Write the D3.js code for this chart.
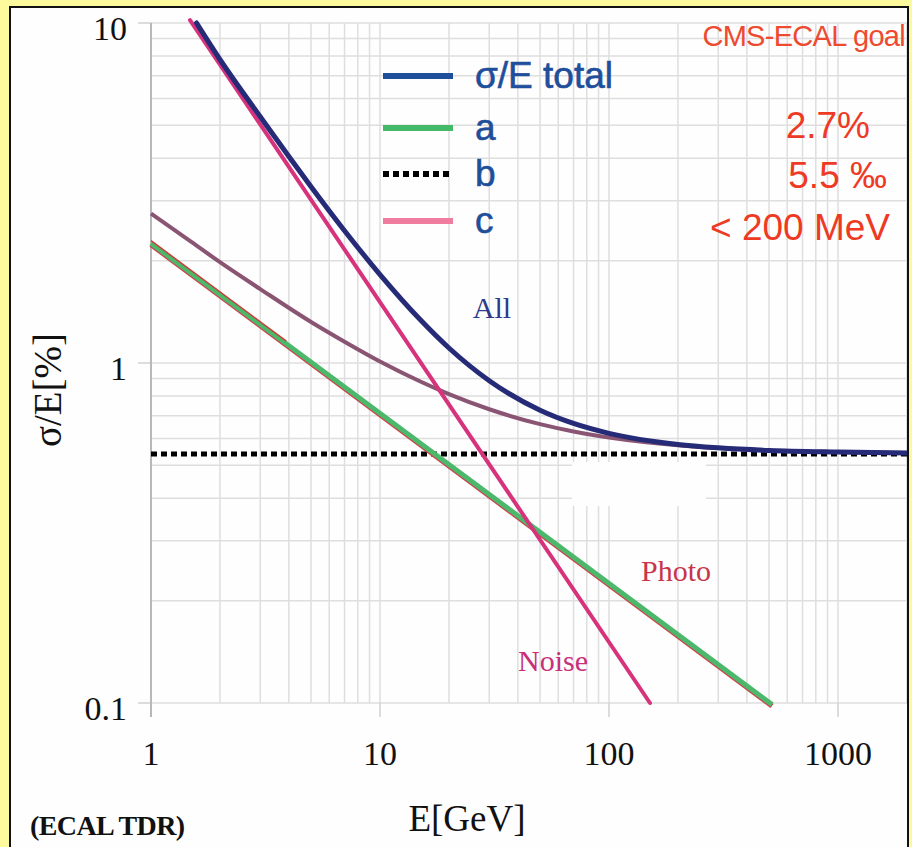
<!DOCTYPE html>
<html>
<head>
<meta charset="utf-8">
<script src="https://cdn.jsdelivr.net/npm/d3@7"></script>
<style>
  body { margin: 0; background: #fdfa9e; }
  svg { display: block; }
</style>
</head>
<body>
<div id="chart"></div>
<script>
//Values
const xTicks = [1, 10, 100, 1000];
const yTicks = [0.1, 1, 10];
const xTickLabels = ["1", "10", "100", "1000"];
const yTickLabels = ["0.1", "1", "10"];

//Total resolution (blue) and stochastic + constant (mauve)
const totalE = [1.58, 2, 3, 4, 5, 7, 10, 15, 20, 30, 50, 70, 100, 200, 300, 500, 1000, 2100];
const totalSigma = [10.0, 7.81, 5.30, 4.05, 3.30, 2.45, 1.82, 1.34, 1.107, 0.887, 0.726, 0.664, 0.621, 0.576, 0.563, 0.553, 0.547, 0.543];
const stochE = [1, 1.5, 2, 3, 5, 7, 10, 15, 20, 30, 50, 70, 100, 200, 300, 500, 1000, 2100];
const stochSigma = [2.75, 2.27, 1.98, 1.65, 1.32, 1.155, 1.01, 0.882, 0.81, 0.731, 0.661, 0.629, 0.604, 0.573, 0.562, 0.553, 0.547, 0.543];

//Straight lines on log-log: photostatistics, noise, constant term
const photoE = [1, 515];
const photoSigma = [2.25, 0.099];
const photoStartE = [1, 3.9];
const photoStartSigma = [2.29, 1.16];
const noiseE = [1.48, 151];
const noiseSigma = [10.2, 0.1];
const constE = [1, 2100];
const constSigma = [0.54, 0.54];

const legendLabels = ["σ/E total", "a", "b", "c"];
const goalTitle = "CMS-ECAL goal";
const goalLabels = ["2.7%", "5.5 ‰", "< 200 MeV"];

const width = 912, height = 847;

const svg = d3.select("#chart")
    .append("svg")
    .attr("width", width)
    .attr("height", height);

//White panel with black frame
svg.append("rect")
    .attr("x", 10).attr("y", 7)
    .attr("width", 898).attr("height", 850)
    .attr("fill", "#fefefe")
    .attr("stroke", "#111")
    .attr("stroke-width", 2);

svg.append("clipPath").attr("id", "panel")
    .append("rect").attr("x", 11).attr("y", 8).attr("width", 896).attr("height", 840);

//Log scales
const xScale = d3.scaleLog().domain([1, 1000]).range([151, 838]);
const yScale = d3.scaleLog().domain([0.1, 10]).range([703, 23]);

const plot = svg.append("g").attr("clip-path", "url(#panel)");

//Minor and major grid lines
const xGrid = [];
[1, 10, 100, 1000].forEach(d => { for (let k = 1; k <= 9; k++) if (d * k <= 2000) xGrid.push(d * k); });
xGrid.push(2000);
const yGrid = [];
[0.1, 1].forEach(d => { for (let k = 1; k <= 9; k++) yGrid.push(d * k); });
yGrid.push(10);

plot.selectAll(".vgrid").data(xGrid).join("line")
    .attr("x1", d => xScale(d)).attr("x2", d => xScale(d))
    .attr("y1", yScale(10)).attr("y2", yScale(0.1))
    .attr("stroke", "#dedede").attr("stroke-width", 1.5);

plot.selectAll(".hgrid").data(yGrid).join("line")
    .attr("x1", xScale(1)).attr("x2", 908)
    .attr("y1", d => yScale(d)).attr("y2", d => yScale(d))
    .attr("stroke", "#dedede").attr("stroke-width", 1.5);

//Tick marks poking out of the frame
plot.selectAll(".xtick").data(xTicks).join("line")
    .attr("x1", d => xScale(d)).attr("x2", d => xScale(d))
    .attr("y1", yScale(0.1)).attr("y2", yScale(0.1) + 14)
    .attr("stroke", "#d0d0d0").attr("stroke-width", 1.5);

plot.selectAll(".ytick").data(yTicks).join("line")
    .attr("x1", xScale(1) - 13).attr("x2", xScale(1))
    .attr("y1", d => yScale(d)).attr("y2", d => yScale(d))
    .attr("stroke", "#d0d0d0").attr("stroke-width", 1.5);

//Left axis line
plot.append("line")
    .attr("x1", xScale(1)).attr("x2", xScale(1))
    .attr("y1", yScale(10)).attr("y2", yScale(0.1) + 14)
    .attr("stroke", "#b8b8b8").attr("stroke-width", 2);

//Blank patch in the grid (as in the scan)
plot.append("rect")
    .attr("x", 572).attr("y", 462).attr("width", 134).attr("height", 44)
    .attr("fill", "#fefefe");

const line = d3.line()
    .x(d => xScale(d[0]))
    .y(d => yScale(d[1]))
    .curve(d3.curveMonotoneX);

const zip = (a, b) => a.map((v, i) => [v, b[i]]);

//Constant term
plot.append("path")
    .datum(zip(constE, constSigma))
    .attr("d", line)
    .attr("fill", "none")
    .attr("stroke", "#000")
    .attr("stroke-width", 5)
    .attr("stroke-dasharray", "6,4");

//Photostatistics: red line under the green one
plot.append("path")
    .datum(zip(photoE, photoSigma))
    .attr("d", line)
    .attr("transform", "translate(0,1.5)")
    .attr("fill", "none")
    .attr("stroke", "#d0404a")
    .attr("stroke-width", 5);

plot.append("path")
    .datum(zip(photoE, photoSigma))
    .attr("d", line)
    .attr("fill", "none")
    .attr("stroke", "#4cb86c")
    .attr("stroke-width", 5);

plot.append("path")
    .datum(zip(photoStartE, photoStartSigma))
    .attr("d", line)
    .attr("fill", "none")
    .attr("stroke", "#c8403a")
    .attr("stroke-width", 1.5);

//Stochastic + constant
plot.append("path")
    .datum(zip(stochE, stochSigma))
    .attr("d", line)
    .attr("fill", "none")
    .attr("stroke", "#8a5572")
    .attr("stroke-width", 4);

//Noise
plot.append("path")
    .datum(zip(noiseE, noiseSigma))
    .attr("d", line)
    .attr("fill", "none")
    .attr("stroke", "#d6337c")
    .attr("stroke-width", 4)
    .attr("stroke-linecap", "round");

//Total
plot.append("path")
    .datum(zip(totalE, totalSigma))
    .attr("d", line)
    .attr("fill", "none")
    .attr("stroke", "#262b78")
    .attr("stroke-width", 5)
    .attr("stroke-linecap", "round");

//Tick labels
const serif = "'Liberation Serif', 'DejaVu Serif', serif";
const sans = "'Liberation Sans', Arial, sans-serif";

svg.selectAll(".xlab").data(xTicks).join("text")
    .attr("x", d => xScale(d)).attr("y", 765)
    .attr("text-anchor", "middle")
    .attr("font-family", serif).attr("font-size", 34)
    .attr("fill", "#111")
    .text((d, i) => xTickLabels[i]);

svg.selectAll(".ylab").data(yTicks).join("text")
    .attr("x", 127).attr("y", d => yScale(d) + 17)
    .attr("text-anchor", "end")
    .attr("font-family", serif).attr("font-size", 34)
    .attr("fill", "#111")
    .text((d, i) => yTickLabels[i]);

//Axis titles
svg.append("text")
    .attr("x", 467).attr("y", 831)
    .attr("text-anchor", "middle")
    .attr("font-family", serif).attr("font-size", 37)
    .attr("fill", "#111")
    .text("E[GeV]");

svg.append("text")
    .attr("transform", "translate(61,390) rotate(-90)")
    .attr("text-anchor", "middle")
    .attr("font-family", serif).attr("font-size", 39)
    .attr("fill", "#111")
    .text("σ/E[%]");

svg.append("text")
    .attr("x", 30).attr("y", 835)
    .attr("font-family", serif).attr("font-size", 28)
    .attr("font-weight", "bold")
    .attr("letter-spacing", -0.6)
    .attr("fill", "#111")
    .text("(ECAL TDR)");

//Curve labels
const curveLabels = [
    {text: "All", x: 492, y: 318, color: "#2d3a8a"},
    {text: "Photo", x: 676, y: 581, color: "#c8344a"},
    {text: "Noise", x: 553, y: 671, color: "#c8307a"}
];
svg.selectAll(".clab").data(curveLabels).join("text")
    .attr("x", d => d.x).attr("y", d => d.y)
    .attr("text-anchor", "middle")
    .attr("font-family", serif).attr("font-size", 30)
    .attr("fill", d => d.color)
    .text(d => d.text);

//Legend
const legendY = [76, 128, 174, 221];
const legendStyles = [
    {color: "#1f4e9a", dash: null, w: 6},
    {color: "#45b96a", dash: null, w: 6},
    {color: "#000", dash: "6,4", w: 6},
    {color: "#f07ca0", dash: null, w: 6}
];
const legend = svg.append("g");
legend.selectAll("line").data(legendLabels).join("line")
    .attr("x1", 383).attr("x2", 453)
    .attr("y1", (d, i) => legendY[i]).attr("y2", (d, i) => legendY[i])
    .attr("stroke", (d, i) => legendStyles[i].color)
    .attr("stroke-width", (d, i) => legendStyles[i].w)
    .attr("stroke-dasharray", (d, i) => legendStyles[i].dash);

legend.selectAll("text").data(legendLabels).join("text")
    .attr("x", 475).attr("y", (d, i) => legendY[i] + 12)
    .attr("font-family", sans).attr("font-size", 37)
    .attr("fill", "#1f4e9a")
    .attr("stroke", "#1f4e9a").attr("stroke-width", 0.6)
    .text(d => d);

//Goal values
svg.append("text")
    .attr("x", 905).attr("y", 46)
    .attr("text-anchor", "end")
    .attr("font-family", sans).attr("font-size", 29)
    .attr("letter-spacing", -0.7)
    .attr("fill", "#ee4a30")
    .text(goalTitle);

const goalX = [870, 887, 890];
const goalY = [138, 188, 240];
svg.selectAll(".goal").data(goalLabels).join("text")
    .attr("x", (d, i) => goalX[i]).attr("y", (d, i) => goalY[i])
    .attr("text-anchor", "end")
    .attr("font-family", sans).attr("font-size", 37)
    .attr("fill", "#ee3a24")
    .text(d => d);
</script>
</body>
</html>
